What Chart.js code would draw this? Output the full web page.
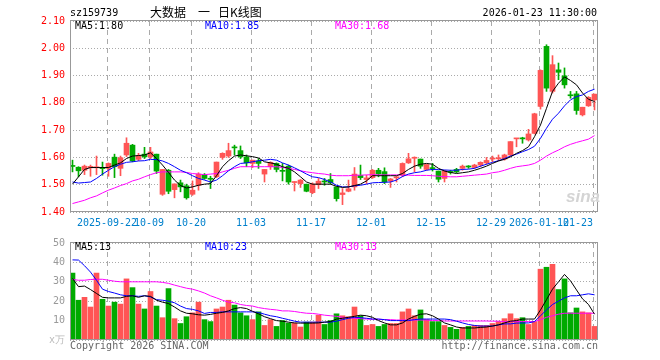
<!DOCTYPE html>
<html>
<head>
<meta charset="utf-8">
<script src="https://cdn.jsdelivr.net/npm/chart.js@4.4.1/dist/chart.umd.min.js"></script>
<style>
  body { margin: 0; background: #fff; }
  #wrap { position: relative; width: 660px; height: 360px; overflow: hidden;
          font-family: "DejaVu Sans Mono", monospace; font-size: 10px; line-height: 10px; }
  #wrap canvas { position: absolute; left: 0; }
  .t { position: absolute; white-space: pre; }
  .cn { font-family: "Noto Sans CJK SC", sans-serif; font-size: 12px; line-height: 12px; }
</style>
</head>
<body>
<div id="wrap">
  <canvas id="kChart" width="660" height="232" style="top:0"></canvas>
  <canvas id="volChart" width="660" height="128" style="top:232px"></canvas>

  <span class="t" style="left:70px;top:8px">sz159739</span>
  <span class="t cn" style="left:150px;top:6px">大数据</span>
  <span class="t cn" style="left:198px;top:6px">一</span>
  <span class="t cn" style="left:218px;top:6px">日K线图</span>
  <span class="t" style="right:63px;top:8px">2026-01-23 11:30:00</span>

  <span class="t" style="left:75px;top:21px;color:#000">MA5:1.80</span>
  <span class="t" style="left:205px;top:21px;color:#0000ff">MA10:1.85</span>
  <span class="t" style="left:335px;top:21px;color:#ff00ff">MA30:1.68</span>

  <span class="t" style="left:566px;top:187px;font:italic bold 17px 'Liberation Sans',sans-serif;color:#d4d4d4">sina</span>

  <span class="t" style="left:75px;top:242px;color:#000">MA5:13</span>
  <span class="t" style="left:205px;top:242px;color:#0000ff">MA10:23</span>
  <span class="t" style="left:335px;top:242px;color:#ff00ff">MA30:13</span>

  <span class="t" style="left:70px;top:341px;color:#666">Copyright 2026 SINA.COM</span>
  <span class="t" style="right:62px;top:341px;color:#666">http://finance.sina.com.cn</span>
</div>
<script>
// 日期刻度
const dates = ['2025-09-22', '10-09', '10-20', '11-03', '11-17', '12-01', '12-15', '12-29', '2026-01-12', '01-23'];
const dateIdx = [6, 13, 20, 30, 40, 50, 60, 70, 78, 87];

// K线数据
const openP = [1.568,1.564,1.553,1.562,1.562,1.560,1.560,1.601,1.560,1.609,
  1.645,1.593,1.612,1.602,1.612,1.465,1.553,1.482,1.507,1.496,
  1.465,1.498,1.537,1.522,1.529,1.600,1.605,1.637,1.625,1.602,
  1.578,1.587,1.539,1.566,1.578,1.551,1.568,1.508,1.504,1.502,
  1.471,1.500,1.511,1.519,1.492,1.464,1.476,1.492,1.534,1.519,
  1.526,1.553,1.548,1.514,1.525,1.535,1.580,1.597,1.594,1.556,
  1.560,1.550,1.523,1.546,1.556,1.560,1.566,1.563,1.572,1.580,
  1.594,1.595,1.594,1.609,1.668,1.669,1.664,1.688,1.787,2.007,
  1.842,1.921,1.899,1.827,1.833,1.756,1.789,1.811];
const closeP = [1.567,1.551,1.568,1.567,1.564,1.559,1.578,1.566,1.599,1.652,
  1.587,1.606,1.602,1.620,1.550,1.556,1.476,1.503,1.492,1.452,
  1.480,1.539,1.523,1.520,1.583,1.615,1.625,1.635,1.602,1.580,
  1.590,1.578,1.556,1.582,1.556,1.549,1.510,1.511,1.517,1.476,
  1.502,1.513,1.510,1.507,1.449,1.470,1.485,1.539,1.526,1.525,
  1.553,1.539,1.510,1.521,1.529,1.578,1.595,1.599,1.568,1.574,
  1.559,1.520,1.551,1.545,1.547,1.568,1.565,1.572,1.582,1.589,
  1.596,1.597,1.609,1.658,1.669,1.668,1.686,1.760,1.919,1.854,
  1.940,1.912,1.866,1.826,1.772,1.784,1.820,1.832];
const highP = [1.590,1.566,1.572,1.572,1.605,1.583,1.580,1.612,1.605,1.672,
  1.648,1.615,1.637,1.637,1.612,1.556,1.556,1.503,1.517,1.502,
  1.514,1.544,1.541,1.531,1.583,1.617,1.652,1.645,1.642,1.609,
  1.590,1.596,1.556,1.584,1.580,1.578,1.572,1.511,1.519,1.502,
  1.507,1.523,1.523,1.541,1.492,1.486,1.517,1.563,1.572,1.535,
  1.556,1.560,1.562,1.523,1.530,1.580,1.615,1.602,1.594,1.574,
  1.578,1.550,1.553,1.553,1.560,1.572,1.570,1.575,1.584,1.600,
  1.605,1.609,1.612,1.658,1.670,1.674,1.703,1.762,1.921,2.013,
  1.973,1.946,1.928,1.842,1.842,1.784,1.823,1.832];
const lowP = [1.547,1.529,1.537,1.531,1.537,1.535,1.531,1.526,1.533,1.603,
  1.584,1.588,1.596,1.596,1.541,1.461,1.467,1.452,1.474,1.447,
  1.461,1.480,1.520,1.486,1.526,1.593,1.600,1.609,1.596,1.566,
  1.563,1.560,1.510,1.556,1.547,1.514,1.502,1.477,1.490,1.474,
  1.467,1.486,1.498,1.502,1.440,1.427,1.474,1.480,1.519,1.504,
  1.523,1.529,1.504,1.490,1.510,1.529,1.578,1.547,1.560,1.553,
  1.550,1.510,1.510,1.539,1.544,1.553,1.560,1.560,1.566,1.575,
  1.584,1.588,1.590,1.605,1.639,1.652,1.660,1.686,1.777,1.842,
  1.836,1.885,1.854,1.817,1.758,1.752,1.787,1.774];

// 均线
const ma5 = [1.502,1.529,1.556,1.563,1.563,1.563,1.563,1.572,1.580,1.596,
  1.605,1.607,1.609,1.617,1.596,1.572,1.545,1.517,1.497,1.488,
  1.492,1.498,1.502,1.504,1.533,1.566,1.588,1.605,1.609,1.606,
  1.603,1.598,1.584,1.580,1.575,1.566,1.560,1.547,1.529,1.510,
  1.502,1.502,1.502,1.502,1.494,1.490,1.492,1.497,1.502,1.514,
  1.533,1.533,1.533,1.533,1.533,1.541,1.556,1.568,1.575,1.578,
  1.575,1.560,1.550,1.545,1.541,1.544,1.547,1.553,1.560,1.568,
  1.578,1.587,1.593,1.602,1.615,1.625,1.639,1.676,1.719,1.780,
  1.842,1.872,1.895,1.882,1.866,1.836,1.813,1.805];
const ma10 = [1.510,1.506,1.508,1.510,1.523,1.539,1.553,1.566,1.575,1.582,
  1.584,1.587,1.588,1.593,1.592,1.587,1.578,1.566,1.553,1.544,
  1.533,1.523,1.517,1.510,1.517,1.533,1.551,1.566,1.578,1.580,
  1.584,1.588,1.590,1.593,1.590,1.580,1.572,1.562,1.551,1.539,
  1.529,1.526,1.519,1.510,1.498,1.492,1.492,1.496,1.498,1.502,
  1.507,1.508,1.509,1.510,1.517,1.530,1.539,1.544,1.547,1.553,
  1.556,1.556,1.554,1.553,1.553,1.556,1.557,1.560,1.568,1.575,
  1.582,1.588,1.596,1.605,1.612,1.621,1.629,1.641,1.670,1.707,
  1.740,1.762,1.789,1.811,1.823,1.829,1.842,1.850];
const ma30 = [1.431,1.437,1.443,1.452,1.459,1.470,1.480,1.488,1.497,1.504,
  1.514,1.520,1.529,1.537,1.544,1.547,1.547,1.547,1.547,1.545,
  1.541,1.539,1.537,1.539,1.541,1.547,1.553,1.560,1.566,1.566,
  1.566,1.566,1.566,1.566,1.566,1.563,1.560,1.556,1.551,1.547,
  1.544,1.541,1.539,1.535,1.533,1.533,1.533,1.535,1.535,1.536,
  1.537,1.536,1.536,1.536,1.536,1.535,1.535,1.534,1.534,1.534,
  1.533,1.531,1.530,1.529,1.529,1.531,1.533,1.535,1.537,1.539,
  1.544,1.547,1.553,1.560,1.566,1.569,1.572,1.578,1.590,1.605,
  1.617,1.627,1.639,1.648,1.655,1.661,1.667,1.680];

// 成交量（万）
const vol = [34.5,20.5,22,17,34.5,21,17.5,19.5,18.5,31.5,
  27,18.5,16,25,17.5,11.5,26.5,11,8.5,12,
  14,19.5,10.5,9.5,16,17,20.5,18,14,12.5,
  10.5,14.5,7.5,10.5,7,10,8.7,8.7,6.7,9.2,
  9.2,12.8,8,10,13.5,12.5,12,17,12.5,7.5,
  8,7,8,8.5,8.5,14.5,16,12.5,15.5,10.5,
  9.5,9.5,7.5,6.5,5.5,6.5,7,7.5,7.5,7.5,
  8.5,9.5,11,13.5,11,11.5,8,9.5,36.5,37.5,
  39,26,31.5,14,16.5,14.5,14,7];
const volMa5 = [31.7,27.5,27.8,26,24,22,21.7,21.7,21.7,22.5,
  22.8,22,22.8,22.5,20.5,19.5,18.8,17,15,13.8,
  13.5,13,12.8,13.2,13.8,14.2,15,16.2,16.7,16.2,
  14.8,13.5,12,11,10,9.7,9.2,8.8,8.7,8.7,
  8.7,8.8,9.2,9.5,10.8,11.2,11.7,12.2,12.8,12.5,
  11.7,10,8.8,7.8,7.8,8.8,10.8,12.2,13.3,13.5,
  12.5,10.8,8.8,7.8,6.7,6.2,6.2,6.2,6.5,6.7,
  7.2,7.8,8.8,9.7,10,10.8,10.8,10.8,15.5,20.8,
  26.2,30,33.8,30.5,25.8,21.2,18.3,13.3];
const volMa10 = [41.3,41.2,38.3,35,30.8,26.2,25,24.2,23.3,22.8,
  22.8,22.5,22.8,22.2,20.8,20.5,20,19.2,17.5,16.2,
  15.8,15,13.7,14.2,14.2,14.5,14.5,14.5,14.5,14.5,
  14.5,14.2,13.3,12.5,12,11.2,10.5,9.7,9.2,9.2,
  9.2,9.2,9.2,9.2,9.7,10.5,11.2,11.7,11.5,11.2,
  10.8,10.8,10.5,10,10,10,10,10.5,10.8,10.8,
  10.8,10.8,10.8,10.5,9.7,8.8,8,7.5,7.2,7.2,
  7.2,7.8,8.3,8.3,8.7,8.8,8.8,9.5,12.5,15.5,
  18.3,20,21.7,22.8,22.8,23.3,23.8,23.3];
const volMa30 = [31.2,30.8,30.8,31.2,31.3,31.3,30.8,30.3,30,30,
  30,30,30,30,30,29.7,29.2,28.3,27.5,26.7,
  26.2,25.3,24.2,22.8,21.7,20.5,19.5,19.2,18.3,17.8,
  17.5,16.7,16.2,15.8,15.5,15,15,14.7,14.2,13.8,
  13.7,13.3,12.8,12.5,12.2,11.7,11.5,11.2,11,10.8,
  10.7,10.7,10.5,10.5,10.3,10.3,10.3,10.3,10.3,10.3,
  10,10,9.8,9.8,9.8,9.8,9.8,9.8,9.8,9.8,
  9.7,9.7,9.5,9.5,9.5,9.5,9.5,9.5,10.5,11.7,
  12.5,13.3,13.8,13.8,13.8,13.8,13.8,13.8];

const upColor = '#ff5555';
const downColor = '#00aa00';
const colors = closeP.map((c, i) => c >= openP[i] ? upColor : downColor);
const mono = { family: 'DejaVu Sans Mono', size: 10 };

// 边框
const framePlugin = {
  id: 'frame',
  afterDraw(chart) {
    const a = chart.chartArea;
    const ctx = chart.ctx;
    ctx.save();
    ctx.strokeStyle = '#999';
    ctx.lineWidth = 1;
    ctx.strokeRect(a.left + 0.5, a.top - 0.5, a.right - a.left - 1, a.bottom - a.top);
    ctx.restore();
  }
};

function xScale(showLabels) {
  return {
    type: 'linear',
    min: -5 / 12,
    max: 88 - 5 / 12,
    offset: false,
    afterBuildTicks: s => { s.ticks = dateIdx.map(v => ({ value: v - 0.25 })); },
    afterFit: s => { s.height = 20; },
    grid: { color: '#aaa', drawTicks: false, offset: false },
    border: { display: false, dash: [5, 4] },
    ticks: {
      display: showLabels, autoSkip: false, maxRotation: 0, padding: 5,
      color: '#0080cc', font: mono,
      callback: (v, i) => i === dates.length - 1 ? dates[i] + '     ' : dates[i]
    }
  };
}

function lineSet(values, color) {
  return {
    type: 'line',
    data: values.map((v, i) => ({ x: i, y: v })),
    borderColor: color,
    borderWidth: 1,
    pointRadius: 0,
    tension: 0,
    order: 1
  };
}

const common = {
  responsive: false,
  animation: false,
  devicePixelRatio: 1,
  events: [],
  plugins: { legend: { display: false }, tooltip: { enabled: false } }
};

// 日K线图
new Chart(document.getElementById('kChart'), {
  type: 'bar',
  data: {
    datasets: [
      lineSet(ma5, '#000000'),
      lineSet(ma10, '#0000ff'),
      lineSet(ma30, '#ff00ff'),
      {
        type: 'bar',
        data: openP.map((o, i) => ({ x: i, y: [o, closeP[i]] })),
        backgroundColor: colors,
        barThickness: 5,
        minBarLength: 1,
        grouped: false,
        order: 4
      },
      {
        type: 'bar',
        data: highP.map((h, i) => ({ x: i, y: [lowP[i], h] })),
        backgroundColor: colors,
        barThickness: 1,
        grouped: false,
        order: 5
      }
    ]
  },
  options: Object.assign({}, common, {
    layout: { padding: { top: 21, right: 62, left: 0, bottom: 0 } },
    scales: {
      x: xScale(true),
      y: {
        min: 1.4, max: 2.1, beginAtZero: false,
        afterFit: s => { s.width = 70; },
        grid: { color: '#aaa', drawTicks: false },
        border: { display: false, dash: [1, 2] },
        ticks: { stepSize: 0.1, padding: 5, color: '#ff0000', font: mono, callback: v => v.toFixed(2) }
      }
    }
  }),
  plugins: [framePlugin]
});

// 成交量
new Chart(document.getElementById('volChart'), {
  type: 'bar',
  data: {
    datasets: [
      lineSet(volMa5, '#000000'),
      lineSet(volMa10, '#0000ff'),
      lineSet(volMa30, '#ff00ff'),
      {
        type: 'bar',
        data: vol.map((v, i) => ({ x: i, y: v })),
        backgroundColor: colors,
        barThickness: 5,
        grouped: false,
        order: 4
      }
    ]
  },
  options: Object.assign({}, common, {
    layout: { padding: { top: 8, right: 62, left: 0, bottom: 0 } },
    scales: {
      x: xScale(false),
      y: {
        min: 0, max: 50,
        afterFit: s => { s.width = 70; },
        grid: { color: '#aaa', drawTicks: false },
        border: { display: false, dash: [1, 2] },
        ticks: {
          stepSize: 10, padding: 5, font: mono,
          color: c => (c.tick && c.tick.value === 0) ? '#bbb' : '#999',
          callback: v => v === 0 ? 'x万' : v
        }
      }
    }
  }),
  plugins: [framePlugin]
});
</script>
</body>
</html>
